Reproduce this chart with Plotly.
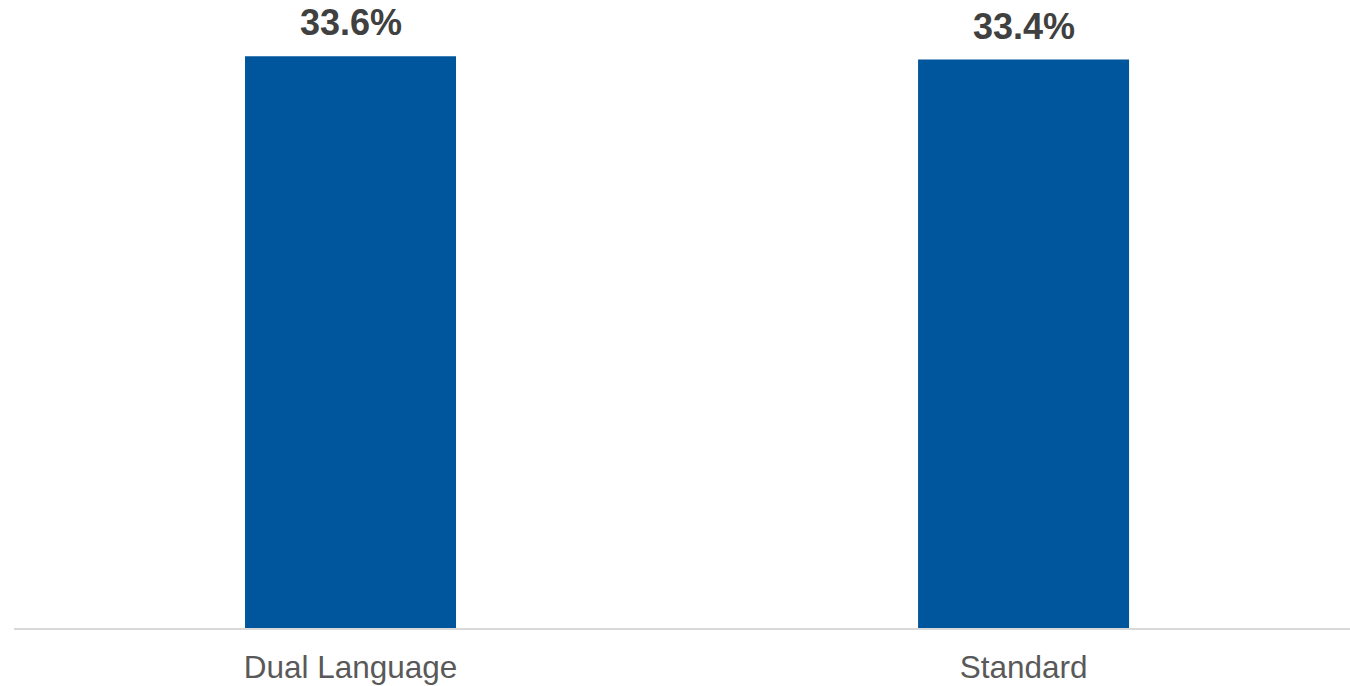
import plotly.graph_objects as go

categories = ["Dual Language", "Standard"]
values = [33.6, 33.4]
value_labels = ["33.6%", "33.4%"]

BAR_COLOR = "#00569C"

fig = go.Figure(
    go.Bar(
        x=categories,
        y=values,
        width=0.3135,
        marker=dict(color=BAR_COLOR, line=dict(width=0)),
        hoverinfo="skip",
    )
)

for cat, val, lab in zip(categories, values, value_labels):
    fig.add_annotation(
        x=cat, y=val, text=f"<b>{lab}</b>", showarrow=False,
        yanchor="bottom", yshift=11,
        font=dict(family="Liberation Sans, Arial", size=36, color="#404040"),
    )

fig.update_layout(
    width=1350, height=686,
    margin=dict(l=14, r=0, t=0, b=58),
    paper_bgcolor="white", plot_bgcolor="white",
    showlegend=False,
    xaxis=dict(
        type="category",
        range=[-0.5, 1.485],
        showline=True, linecolor="#D9D9D9", linewidth=2,
        showgrid=False, ticks="",
        ticklabelstandoff=10,
        tickfont=dict(family="Liberation Sans, Arial", size=31.5, color="#595959"),
    ),
    yaxis=dict(
        range=[0, 36.9], visible=False, showgrid=False, zeroline=False,
    ),
)

fig.write_html("out.html")
